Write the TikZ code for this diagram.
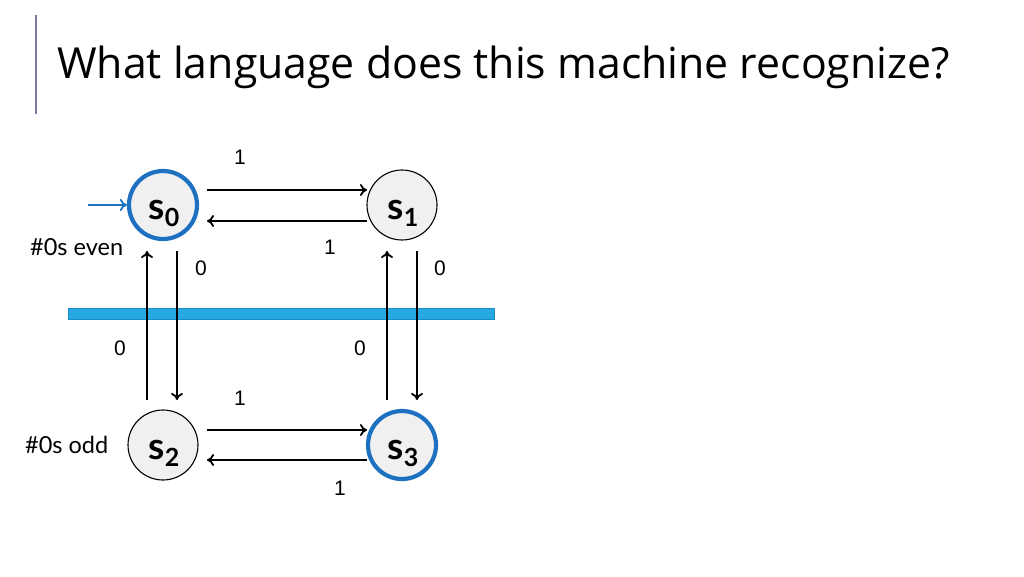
\documentclass[tikz,border=0pt]{standalone}
\usepackage{fontspec}
\setmainfont{Open Sans}
\newfontfamily\labelfont{Lato}
\newfontfamily\digitfont{Liberation Sans}
\usetikzlibrary{arrows.meta}
\definecolor{stateblue}{RGB}{30,112,192}
\definecolor{barblue}{RGB}{38,169,224}
\definecolor{baredge}{RGB}{28,140,200}
\definecolor{titlebar}{RGB}{122,122,160}
\definecolor{statefill}{RGB}{240,240,240}
\tikzset{
  statebox/.style={circle, draw=black, line width=1.1pt, fill=statefill, minimum size=70pt, inner sep=0pt},
  accepting/.style={draw=stateblue, line width=4.2pt, minimum size=68pt},
  trans/.style={draw=black, line width=2.2pt, -{To[length=7pt,width=12pt,line width=1.8pt]}},
  initarrow/.style={draw=stateblue, line width=2.2pt, -{To[length=7pt,width=12pt,line width=1.8pt]}},
  digit/.style={font=\digitfont\fontsize{21}{21}\selectfont, inner sep=0pt},
  note/.style={font=\labelfont\fontsize{23.5}{23.5}\selectfont, inner sep=0pt, anchor=west},
}
\newcommand{\stname}[1]{{\fontsize{37}{37}\selectfont\labelfont\bfseries s\raisebox{-7pt}{\fontsize{25}{25}\selectfont #1}}}
\begin{document}
\begin{tikzpicture}[x=1pt,y=-1pt]
\useasboundingbox (0,0) rectangle (1024,576);
\fill[white] (0,0) rectangle (1024,576);
% title
\draw[titlebar, line width=2.2pt] (36,15) -- (36,114);
\node[anchor=base west, inner sep=0pt, font=\fontsize{42.8}{42.8}\selectfont] (title) at (57,78) {What language does this machine recognize?};
% states
\node[statebox, accepting] (s0) at (163,205) {};
\node[statebox] (s1) at (402,205) {};
\node[statebox] (s2) at (163,445) {};
\node[statebox, accepting] (s3) at (402,445) {};
\node[inner sep=0pt] (t0) at (164,213) {\stname{0}};
\node[inner sep=0pt] (t1) at (403,213) {\stname{1}};
\node[inner sep=0pt] (t2) at (164,453) {\stname{2}};
\node[inner sep=0pt] (t3) at (403,453) {\stname{3}};
% initial arrow
\coordinate (init) at (88,205);
\draw[initarrow] (init) -- (s0.west);
% coordinates for arrow ends
\coordinate (a1s) at (207,190); \coordinate (a1e) at (367,190);
\coordinate (a2s) at (367,221); \coordinate (a2e) at (207,221);
\coordinate (a3s) at (207,430); \coordinate (a3e) at (367,430);
\coordinate (a4s) at (367,460); \coordinate (a4e) at (207,460);
\coordinate (v1s) at (147,400); \coordinate (v1e) at (147,251);
\coordinate (v2s) at (177,251); \coordinate (v2e) at (177,400);
\coordinate (v3s) at (387,400); \coordinate (v3e) at (387,251);
\coordinate (v4s) at (417,251); \coordinate (v4e) at (417,400);
% blue bar
\node[draw=baredge, fill=barblue, line width=0.8pt, minimum width=426pt, minimum height=11pt, inner sep=0pt] (bar) at (281,314) {};
% transitions
\draw[trans] (a1s) -- (a1e);
\draw[trans] (a2s) -- (a2e);
\draw[trans] (a3s) -- (a3e);
\draw[trans] (a4s) -- (a4e);
\draw[trans] (v1s) -- (v1e);
\draw[trans] (v2s) -- (v2e);
\draw[trans] (v3s) -- (v3e);
\draw[trans] (v4s) -- (v4e);
% labels
\node[digit] (l1) at (240,157) {1};
\node[digit] (l2) at (330,247) {1};
\node[digit] (l3) at (201,268) {0};
\node[digit] (l4) at (440,268) {0};
\node[digit] (l5) at (120,348) {0};
\node[digit] (l6) at (360,348) {0};
\node[digit] (l7) at (240,398) {1};
\node[digit] (l8) at (340,488) {1};
\node[note] (even) at (30,247) {\#0s even};
\node[note] (odd) at (25,445) {\#0s odd};
\end{tikzpicture}
\end{document}
